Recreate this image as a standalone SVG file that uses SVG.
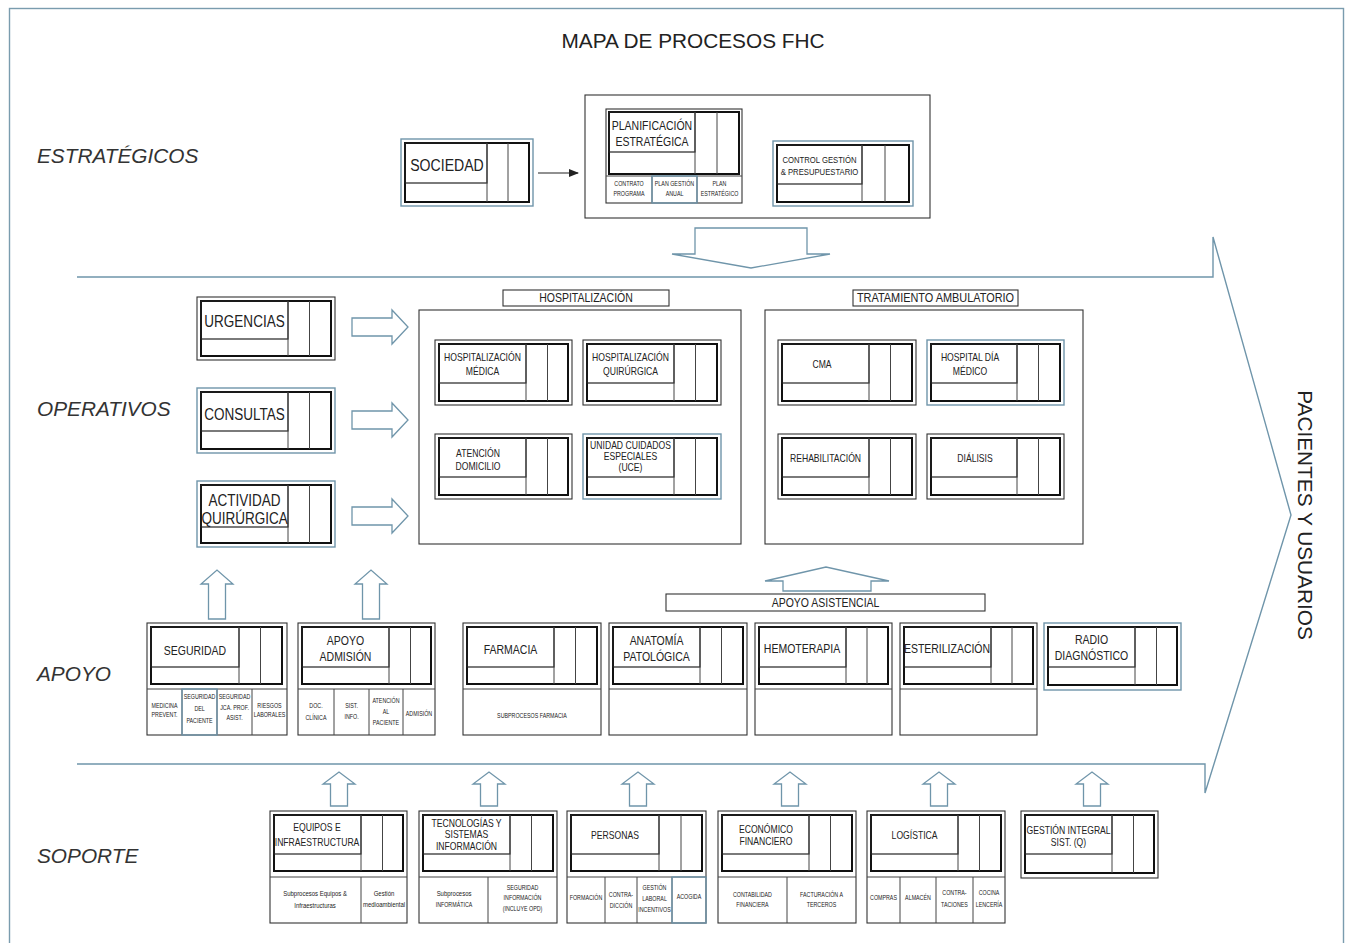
<svg xmlns="http://www.w3.org/2000/svg" width="1346" height="943" viewBox="0 0 1346 943">
<defs>
<style>
.o{fill:#fff;stroke:#333;stroke-width:1.1}
.ob{fill:#fff;stroke:#6f95aa;stroke-width:1.4}
.bc{fill:none;stroke:#6f95aa;stroke-width:1.4}
.i{fill:none;stroke:#111;stroke-width:2}
.t{fill:none;stroke:#222;stroke-width:1.2}
.v{stroke:#444;stroke-width:1}
.blk{fill:#fff;stroke:#6f95aa;stroke-width:1.3}
.ln{fill:none;stroke:#6f95aa;stroke-width:1.4}
text{font-family:"Liberation Sans Narrow","Liberation Sans",Arial,sans-serif;fill:#222;text-anchor:middle;transform:scaleX(0.82);transform-box:fill-box;transform-origin:center}
.L{font-size:16.5px}
.M{font-size:12.8px}
.S{font-size:10.5px}
.SS{font-size:9.4px}
.XS{font-size:6.5px}
.XL{font-size:7.3px}
.sec{font-family:"Liberation Sans",Arial,sans-serif;font-style:italic;font-size:20.8px;text-anchor:start;fill:#333;transform:none}
.ttl{font-family:"Liberation Sans",Arial,sans-serif;font-size:20.8px;fill:#222;transform:none}
</style>
<marker id="ah" markerWidth="10" markerHeight="8" refX="9" refY="4" orient="auto" markerUnits="userSpaceOnUse"><path d="M0,0 L10,4 L0,8 z" fill="#222"/></marker>
</defs>
<rect x="0" y="0" width="1346" height="943" fill="#fff"/>
<rect x="9.5" y="8.5" width="1334" height="940" fill="none" stroke="#7a9cae" stroke-width="1.4"/>

<g id="labels">
<text class="ttl" x="693" y="48">MAPA DE PROCESOS FHC</text>
<text class="sec" x="37" y="163">ESTRATÉGICOS</text>
<text class="sec" x="37" y="416">OPERATIVOS</text>
<text class="sec" x="37" y="681">APOYO</text>
<text class="sec" x="37" y="863">SOPORTE</text>
<g transform="translate(1298,515) rotate(90)"><text class="ttl" x="0" y="0">PACIENTES Y USUARIOS</text></g>
</g>

<g id="connectors">
<path class="ln" d="M77,277 H1213 V237 L1291,515 L1205,793 V764 H77"/>
<line x1="538" y1="173" x2="578" y2="173" stroke="#222" stroke-width="1.2" marker-end="url(#ah)"/>
<line x1="772" y1="166" x2="747" y2="166" stroke="#222" stroke-width="1.2" marker-end="url(#ah)"/>
<polygon class="blk" points="695,228 807,228 807,254 830,254 751,268 672,254 695,254"/>
<polygon class="blk" points="352,318 392,318 392,310 408,327 392,344 392,336 352,336"/>
<polygon class="blk" points="352,411 392,411 392,403 408,420 392,437 392,429 352,429"/>
<polygon class="blk" points="352,507 392,507 392,499 408,516 392,533 392,525 352,525"/>
<polygon class="blk" points="783,591 783,581 765,581 826,567 889,581 871,581 871,591"/>
<polygon class="blk" points="208.5,619 208.5,584 201,584 217,570 233,584 225.5,584 225.5,619"/>
<polygon class="blk" points="362.5,619 362.5,584 355,584 371,570 387,584 379.5,584 379.5,619"/>
<polygon class="blk" points="330.5,806 330.5,784 323,784 339,772 355,784 347.5,784 347.5,806"/>
<polygon class="blk" points="480.5,806 480.5,784 473,784 489,772 505,784 497.5,784 497.5,806"/>
<polygon class="blk" points="629.5,806 629.5,784 622,784 638,772 654,784 646.5,784 646.5,806"/>
<polygon class="blk" points="781.5,806 781.5,784 774,784 790,772 806,784 798.5,784 798.5,806"/>
<polygon class="blk" points="930.5,806 930.5,784 923,784 939,772 955,784 947.5,784 947.5,806"/>
<polygon class="blk" points="1083.5,806 1083.5,784 1076,784 1092,772 1108,784 1100.5,784 1100.5,806"/>
</g>

<g id="sociedad">
<rect class="ob" x="401" y="139" width="132" height="67"/>
<rect class="i" x="405" y="143" width="124" height="59"/>
<rect class="t" x="405" y="143" width="82" height="40"/>
<line class="v" x1="487" y1="143" x2="487" y2="202"/>
<line class="v" x1="508" y1="143" x2="508" y2="202"/>
<text class="L" x="447" y="171" style="font-size:17.2px">SOCIEDAD</text>
</g>

<g id="estrategico">
<rect class="o" x="585" y="95" width="345" height="123" stroke-width="1.3"/>
</g>

<g id="planificacion">
<rect class="o" x="606" y="109" width="136" height="94"/>
<rect class="i" x="609" y="112" width="130" height="62"/>
<rect class="t" x="609" y="112" width="86" height="40"/>
<line class="v" x1="695" y1="112" x2="695" y2="174"/>
<line class="v" x1="717" y1="112" x2="717" y2="174"/>
<line class="v" x1="606" y1="176" x2="742" y2="176"/>
<line class="v" x1="652" y1="176" x2="652" y2="203"/>
<line class="v" x1="697" y1="176" x2="697" y2="203"/>
<rect class="bc" x="652" y="176" width="45" height="27"/>
<text class="M" x="652" y="130">PLANIFICACIÓN</text>
<text class="M" x="652" y="146">ESTRATÉGICA</text>
<text class="XS" x="629" y="186">CONTRATO</text>
<text class="XS" x="629" y="196">PROGRAMA</text>
<text class="XS" x="674.5" y="186">PLAN GESTIÓN</text>
<text class="XS" x="674.5" y="196">ANUAL</text>
<text class="XS" x="719.5" y="186">PLAN</text>
<text class="XS" x="719.5" y="196">ESTRATÉGICO</text>
</g>

<g id="control">
<rect class="ob" x="773" y="141" width="140" height="65"/>
<rect class="i" x="777" y="145" width="132" height="57"/>
<rect class="t" x="777" y="145" width="85" height="39"/>
<line class="v" x1="862" y1="145" x2="862" y2="202"/>
<line class="v" x1="885" y1="145" x2="885" y2="202"/>
<text class="SS" x="819.5" y="163">CONTROL GESTIÓN</text>
<text class="SS" x="819.5" y="175">&amp; PRESUPUESTARIO</text>
</g>

<g id="urgencias">
<rect class="o" x="197" y="297" width="138" height="63"/>
<rect class="i" x="201" y="301" width="130" height="55"/>
<rect class="t" x="201" y="301" width="87" height="38"/>
<line class="v" x1="288" y1="301" x2="288" y2="356"/>
<line class="v" x1="309.5" y1="301" x2="309.5" y2="356"/>
<text class="L" x="244.5" y="327">URGENCIAS</text>
</g>

<g id="consultas">
<rect class="ob" x="197" y="388" width="138" height="65"/>
<rect class="i" x="201" y="392" width="130" height="57"/>
<rect class="t" x="201" y="392" width="87" height="39"/>
<line class="v" x1="288" y1="392" x2="288" y2="449"/>
<line class="v" x1="309.5" y1="392" x2="309.5" y2="449"/>
<text class="L" x="244.5" y="420">CONSULTAS</text>
</g>

<g id="actividad">
<rect class="ob" x="197" y="481" width="138" height="66"/>
<rect class="i" x="201" y="485" width="130" height="58"/>
<rect class="t" x="201" y="485" width="87" height="42"/>
<line class="v" x1="288" y1="485" x2="288" y2="543"/>
<line class="v" x1="309.5" y1="485" x2="309.5" y2="543"/>
<text class="L" x="244.5" y="506">ACTIVIDAD</text>
<text class="L" x="244.5" y="524">QUIRÚRGICA</text>
</g>

<g id="hospitalizacion">
<rect class="o" x="503" y="290" width="166" height="16"/>
<text class="M" x="586" y="302">HOSPITALIZACIÓN</text>
<rect class="o" x="419" y="310" width="322" height="234" stroke-width="1.3"/>
</g>

<g id="hosp-medica">
<rect class="o" x="435" y="340" width="137" height="65"/>
<rect class="i" x="439" y="344" width="129" height="57"/>
<rect class="t" x="439" y="344" width="87" height="39"/>
<line class="v" x1="526" y1="344" x2="526" y2="401"/>
<line class="v" x1="547.5" y1="344" x2="547.5" y2="401"/>
<text class="S" x="482.5" y="361">HOSPITALIZACIÓN</text>
<text class="S" x="482.5" y="375">MÉDICA</text>
</g>

<g id="hosp-quirurgica">
<rect class="o" x="583" y="340" width="138" height="65"/>
<rect class="i" x="587" y="344" width="130" height="57"/>
<rect class="t" x="587" y="344" width="87" height="39"/>
<line class="v" x1="674" y1="344" x2="674" y2="401"/>
<line class="v" x1="695.5" y1="344" x2="695.5" y2="401"/>
<text class="S" x="630.5" y="361">HOSPITALIZACIÓN</text>
<text class="S" x="630.5" y="375">QUIRÚRGICA</text>
</g>

<g id="atencion-domicilio">
<rect class="o" x="435" y="434" width="137" height="65"/>
<rect class="i" x="439" y="438" width="129" height="57"/>
<rect class="t" x="439" y="438" width="87" height="39"/>
<line class="v" x1="526" y1="438" x2="526" y2="495"/>
<line class="v" x1="547.5" y1="438" x2="547.5" y2="495"/>
<text class="S" x="478" y="457">ATENCIÓN</text>
<text class="S" x="478" y="470">DOMICILIO</text>
</g>

<g id="uce">
<rect class="ob" x="583" y="434" width="138" height="65"/>
<rect class="i" x="587" y="438" width="130" height="57"/>
<rect class="t" x="587" y="438" width="87" height="39"/>
<line class="v" x1="674" y1="438" x2="674" y2="495"/>
<line class="v" x1="695.5" y1="438" x2="695.5" y2="495"/>
<text class="S" x="630.5" y="449">UNIDAD CUIDADOS</text>
<text class="S" x="630.5" y="460">ESPECIALES</text>
<text class="S" x="630.5" y="471">(UCE)</text>
</g>

<g id="tratamiento">
<rect class="o" x="853" y="290" width="165" height="16"/>
<text class="M" x="935.5" y="302" style="font-size:13.3px">TRATAMIENTO AMBULATORIO</text>
<rect class="o" x="765" y="310" width="318" height="234" stroke-width="1.3"/>
</g>

<g id="cma">
<rect class="o" x="778" y="340" width="138" height="65"/>
<rect class="i" x="782" y="344" width="130" height="57"/>
<rect class="t" x="782" y="344" width="87" height="39"/>
<line class="v" x1="869" y1="344" x2="869" y2="401"/>
<line class="v" x1="890.5" y1="344" x2="890.5" y2="401"/>
<text class="S" x="822" y="368">CMA</text>
</g>

<g id="hospital-dia">
<rect class="ob" x="927" y="340" width="137" height="65"/>
<rect class="i" x="931" y="344" width="129" height="57"/>
<rect class="t" x="931" y="344" width="86" height="39"/>
<line class="v" x1="1017" y1="344" x2="1017" y2="401"/>
<line class="v" x1="1038.5" y1="344" x2="1038.5" y2="401"/>
<text class="S" x="970" y="361">HOSPITAL DÍA</text>
<text class="S" x="970" y="375">MÉDICO</text>
</g>

<g id="rehabilitacion">
<rect class="o" x="778" y="434" width="138" height="65"/>
<rect class="i" x="782" y="438" width="130" height="57"/>
<rect class="t" x="782" y="438" width="87" height="39"/>
<line class="v" x1="869" y1="438" x2="869" y2="495"/>
<line class="v" x1="890.5" y1="438" x2="890.5" y2="495"/>
<text class="S" x="825.5" y="462">REHABILITACIÓN</text>
</g>

<g id="dialisis">
<rect class="o" x="927" y="434" width="137" height="65"/>
<rect class="i" x="931" y="438" width="129" height="57"/>
<rect class="t" x="931" y="438" width="86" height="39"/>
<line class="v" x1="1017" y1="438" x2="1017" y2="495"/>
<line class="v" x1="1038.5" y1="438" x2="1038.5" y2="495"/>
<text class="S" x="975" y="462">DIÁLISIS</text>
</g>

<g id="apoyo-asistencial">
<rect class="o" x="666" y="594" width="319" height="17"/>
<text class="M" x="825.5" y="607">APOYO ASISTENCIAL</text>
</g>

<g id="seguridad">
<rect class="o" x="147" y="623" width="140" height="112"/>
<rect class="i" x="151" y="627" width="131" height="57"/>
<rect class="t" x="151" y="627" width="88" height="40"/>
<line class="v" x1="239" y1="627" x2="239" y2="684"/>
<line class="v" x1="260.5" y1="627" x2="260.5" y2="684"/>
<line class="v" x1="147" y1="689" x2="287" y2="689"/>
<line class="v" x1="182" y1="689" x2="182" y2="735"/>
<line class="v" x1="217" y1="689" x2="217" y2="735"/>
<line class="v" x1="252" y1="689" x2="252" y2="735"/>
<rect class="bc" x="182" y="689" width="35" height="46"/>
<text class="M" x="195" y="655">SEGURIDAD</text>
<text class="XS" x="164.5" y="708">MEDICINA</text>
<text class="XS" x="164.5" y="717">PREVENT.</text>
<text class="XS" x="199.5" y="699">SEGURIDAD</text>
<text class="XS" x="199.5" y="711">DEL</text>
<text class="XS" x="199.5" y="723">PACIENTE</text>
<text class="XS" x="234.5" y="699">SEGURIDAD</text>
<text class="XS" x="234.5" y="710">JCA. PROF.</text>
<text class="XS" x="234.5" y="720">ASIST.</text>
<text class="XS" x="269.5" y="708">RIESGOS</text>
<text class="XS" x="269.5" y="717">LABORALES</text>
</g>

<g id="apoyo-admision">
<rect class="o" x="298" y="623" width="137" height="112"/>
<rect class="i" x="302" y="627" width="129" height="57"/>
<rect class="t" x="302" y="627" width="87" height="40"/>
<line class="v" x1="389" y1="627" x2="389" y2="684"/>
<line class="v" x1="410.5" y1="627" x2="410.5" y2="684"/>
<line class="v" x1="298" y1="689" x2="435" y2="689"/>
<line class="v" x1="334" y1="689" x2="334" y2="735"/>
<line class="v" x1="369" y1="689" x2="369" y2="735"/>
<line class="v" x1="403" y1="689" x2="403" y2="735"/>
<text class="M" x="345.5" y="645">APOYO</text>
<text class="M" x="345.5" y="661">ADMISIÓN</text>
<text class="XS" x="316" y="708">DOC.</text>
<text class="XS" x="316" y="720">CLÍNICA</text>
<text class="XS" x="351.5" y="708">SIST.</text>
<text class="XS" x="351.5" y="719">INFO.</text>
<text class="XS" x="386" y="703">ATENCIÓN</text>
<text class="XS" x="386" y="714">AL</text>
<text class="XS" x="386" y="725">PACIENTE</text>
<text class="XS" x="419" y="716">ADMISIÓN</text>
</g>

<g id="farmacia">
<rect class="o" x="463" y="623" width="138" height="112"/>
<rect class="i" x="467" y="627" width="130" height="57"/>
<rect class="t" x="467" y="627" width="87" height="40"/>
<line class="v" x1="554" y1="627" x2="554" y2="684"/>
<line class="v" x1="575.5" y1="627" x2="575.5" y2="684"/>
<line class="v" x1="463" y1="689" x2="601" y2="689"/>
<text class="M" x="510.5" y="654">FARMACIA</text>
<text class="XS" x="532" y="718">SUBPROCESOS FARMACIA</text>
</g>

<g id="anatomia">
<rect class="o" x="609" y="623" width="138" height="112"/>
<rect class="i" x="613" y="627" width="130" height="57"/>
<rect class="t" x="613" y="627" width="87" height="40"/>
<line class="v" x1="700" y1="627" x2="700" y2="684"/>
<line class="v" x1="721.5" y1="627" x2="721.5" y2="684"/>
<line class="v" x1="609" y1="689" x2="747" y2="689"/>
<text class="M" x="656.5" y="645">ANATOMÍA</text>
<text class="M" x="656.5" y="661">PATOLÓGICA</text>
</g>

<g id="hemoterapia">
<rect class="o" x="755" y="623" width="137" height="112"/>
<rect class="i" x="759" y="627" width="129" height="57"/>
<rect class="t" x="759" y="627" width="87" height="40"/>
<line class="v" x1="846" y1="627" x2="846" y2="684"/>
<line class="v" x1="867" y1="627" x2="867" y2="684"/>
<line class="v" x1="755" y1="689" x2="892" y2="689"/>
<text class="M" x="802" y="653">HEMOTERAPIA</text>
</g>

<g id="esterilizacion">
<rect class="o" x="900" y="623" width="137" height="112"/>
<rect class="i" x="904" y="627" width="129" height="57"/>
<rect class="t" x="904" y="627" width="87" height="40"/>
<line class="v" x1="991" y1="627" x2="991" y2="684"/>
<line class="v" x1="1012" y1="627" x2="1012" y2="684"/>
<line class="v" x1="900" y1="689" x2="1037" y2="689"/>
<text class="M" x="947" y="653">ESTERILIZACIÓN</text>
</g>

<g id="radio-diagnostico">
<rect class="ob" x="1044" y="623" width="137" height="67"/>
<rect class="i" x="1048" y="627" width="129" height="58"/>
<rect class="t" x="1048" y="627" width="87" height="40"/>
<line class="v" x1="1135" y1="627" x2="1135" y2="685"/>
<line class="v" x1="1156.5" y1="627" x2="1156.5" y2="685"/>
<text class="M" x="1091.5" y="644">RADIO</text>
<text class="M" x="1091.5" y="660">DIAGNÓSTICO</text>
</g>

<g id="equipos">
<rect class="o" x="270" y="811" width="137" height="112"/>
<rect class="i" x="274" y="815" width="129" height="56"/>
<rect class="t" x="274" y="815" width="87" height="39"/>
<line class="v" x1="361" y1="815" x2="361" y2="871"/>
<line class="v" x1="382.5" y1="815" x2="382.5" y2="871"/>
<line class="v" x1="270" y1="877" x2="407" y2="877"/>
<line class="v" x1="361" y1="877" x2="361" y2="923"/>
<text class="S" x="317" y="831">EQUIPOS E</text>
<text class="S" x="317" y="846">INFRAESTRUCTURA</text>
<text class="XL" x="315" y="896">Subprocesos Equipos &amp;</text>
<text class="XL" x="315" y="908">Infraestructuras</text>
<text class="XL" x="384" y="896">Gestión</text>
<text class="XL" x="384" y="907">medioambiental</text>
</g>

<g id="tecnologias">
<rect class="o" x="419" y="811" width="138" height="112"/>
<rect class="i" x="423" y="815" width="130" height="56"/>
<rect class="t" x="423" y="815" width="87" height="39"/>
<line class="v" x1="510" y1="815" x2="510" y2="871"/>
<line class="v" x1="531.5" y1="815" x2="531.5" y2="871"/>
<line class="v" x1="419" y1="877" x2="557" y2="877"/>
<line class="v" x1="488" y1="877" x2="488" y2="923"/>
<text class="S" x="466.5" y="827">TECNOLOGÍAS Y</text>
<text class="S" x="466.5" y="838">SISTEMAS</text>
<text class="S" x="466.5" y="850">INFORMACIÓN</text>
<text class="XL" x="454" y="896">Subprocesos</text>
<text class="XS" x="454" y="907">INFORMÁTICA</text>
<text class="XS" x="522.5" y="890">SEGURIDAD</text>
<text class="XS" x="522.5" y="900">INFORMACIÓN</text>
<text class="XS" x="522.5" y="911">(INCLUYE OPD)</text>
</g>

<g id="personas">
<rect class="o" x="567" y="811" width="139" height="112"/>
<rect class="i" x="571" y="815" width="131" height="56"/>
<rect class="t" x="571" y="815" width="88" height="39"/>
<line class="v" x1="659" y1="815" x2="659" y2="871"/>
<line class="v" x1="681" y1="815" x2="681" y2="871"/>
<line class="v" x1="567" y1="877" x2="706" y2="877"/>
<line class="v" x1="605" y1="877" x2="605" y2="923"/>
<line class="v" x1="637" y1="877" x2="637" y2="923"/>
<line class="v" x1="672" y1="877" x2="672" y2="923"/>
<rect class="bc" x="672" y="877" width="34" height="46"/>
<text class="S" x="615" y="839">PERSONAS</text>
<text class="XS" x="586" y="900">FORMACIÓN</text>
<text class="XS" x="621" y="897">CONTRA-</text>
<text class="XS" x="621" y="908">DICCIÓN</text>
<text class="XS" x="654.5" y="890">GESTIÓN</text>
<text class="XS" x="654.5" y="901">LABORAL</text>
<text class="XS" x="654.5" y="912">INCENTIVOS</text>
<text class="XS" x="689" y="899">ACOGIDA</text>
</g>

<g id="economico">
<rect class="o" x="718" y="811" width="138" height="112"/>
<rect class="i" x="722" y="815" width="130" height="56"/>
<rect class="t" x="722" y="815" width="87" height="39"/>
<line class="v" x1="809" y1="815" x2="809" y2="871"/>
<line class="v" x1="830.5" y1="815" x2="830.5" y2="871"/>
<line class="v" x1="718" y1="877" x2="856" y2="877"/>
<line class="v" x1="787" y1="877" x2="787" y2="923"/>
<text class="S" x="766" y="833">ECONÓMICO</text>
<text class="S" x="766" y="845">FINANCIERO</text>
<text class="XS" x="752.5" y="897">CONTABILIDAD</text>
<text class="XS" x="752.5" y="907">FINANCIERA</text>
<text class="XS" x="821.5" y="897">FACTURACIÓN A</text>
<text class="XS" x="821.5" y="907">TERCEROS</text>
</g>

<g id="logistica">
<rect class="o" x="867" y="811" width="138" height="112"/>
<rect class="i" x="871" y="815" width="130" height="56"/>
<rect class="t" x="871" y="815" width="87" height="39"/>
<line class="v" x1="958" y1="815" x2="958" y2="871"/>
<line class="v" x1="979.5" y1="815" x2="979.5" y2="871"/>
<line class="v" x1="867" y1="877" x2="1005" y2="877"/>
<line class="v" x1="900" y1="877" x2="900" y2="923"/>
<line class="v" x1="936" y1="877" x2="936" y2="923"/>
<line class="v" x1="973" y1="877" x2="973" y2="923"/>
<text class="S" x="914.5" y="839">LOGÍSTICA</text>
<text class="XS" x="883.5" y="900">COMPRAS</text>
<text class="XS" x="918" y="900">ALMACÉN</text>
<text class="XS" x="954.5" y="895">CONTRA-</text>
<text class="XS" x="954.5" y="907">TACIONES</text>
<text class="XS" x="989" y="895">COCINA</text>
<text class="XS" x="989" y="907">LENCERÍA</text>
</g>

<g id="gestion-integral">
<rect class="o" x="1021" y="811" width="137" height="67"/>
<rect class="i" x="1025" y="815" width="129" height="58"/>
<rect class="t" x="1025" y="815" width="87" height="39"/>
<line class="v" x1="1112" y1="815" x2="1112" y2="873"/>
<line class="v" x1="1133.5" y1="815" x2="1133.5" y2="873"/>
<text class="S" x="1068.5" y="834">GESTIÓN INTEGRAL</text>
<text class="S" x="1068.5" y="846">SIST. (Q)</text>
</g>
</svg>
